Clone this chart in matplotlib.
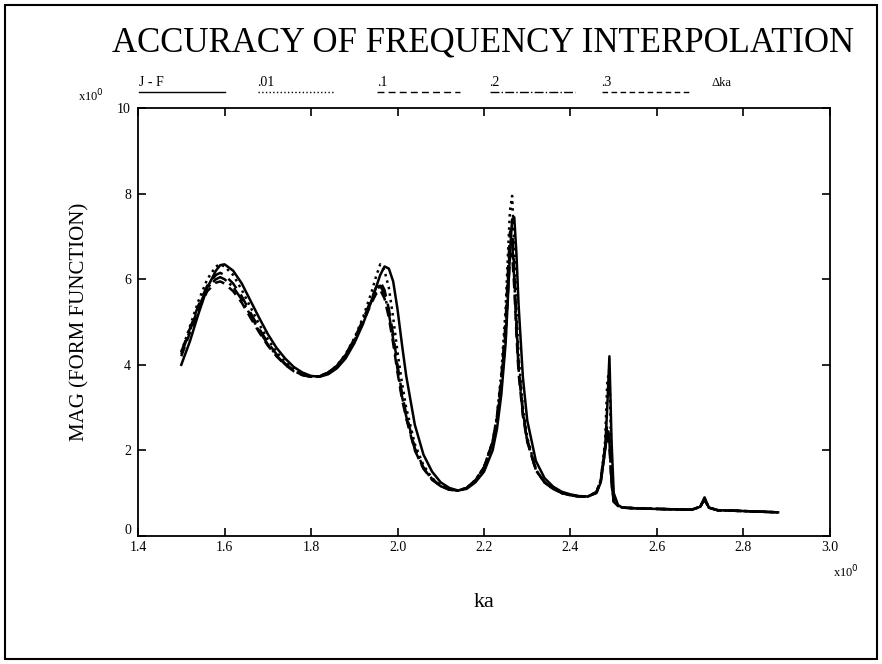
import matplotlib
matplotlib.use("Agg")
import matplotlib.pyplot as plt
import matplotlib.transforms as mtransforms
from matplotlib.lines import Line2D
from matplotlib.patches import Rectangle

plt.rcParams['font.family'] = ['Liberation Serif', 'DejaVu Serif']

# shared ka grid (denser around the sharp resonances)
ka = [1.50, 1.52, 1.54, 1.56, 1.58, 1.59, 1.60, 1.62, 1.64, 1.66,
      1.68, 1.70, 1.72, 1.74, 1.76, 1.78, 1.80, 1.82, 1.84, 1.86,
      1.88, 1.90, 1.92, 1.94, 1.95, 1.96, 1.97, 1.98, 1.99, 2.00,
      2.01, 2.02, 2.04, 2.06, 2.08, 2.10, 2.12, 2.14, 2.16, 2.18,
      2.20, 2.22, 2.23, 2.24, 2.25, 2.255, 2.26, 2.265, 2.27, 2.275,
      2.28, 2.29, 2.30, 2.32, 2.34, 2.36, 2.38, 2.40, 2.42, 2.44,
      2.46, 2.47, 2.48, 2.485, 2.49, 2.495, 2.50, 2.51, 2.52, 2.56,
      2.60, 2.64, 2.68, 2.70, 2.71, 2.72, 2.74, 2.80, 2.88]

# J - F (exact)
mag_jf = [4.00, 4.55, 5.20, 5.80, 6.20, 6.33, 6.35, 6.20, 5.90, 5.50,
          5.10, 4.72, 4.40, 4.15, 3.95, 3.82, 3.74, 3.72, 3.78, 3.92,
          4.15, 4.50, 4.95, 5.50, 5.80, 6.10, 6.30, 6.25, 5.95, 5.30,
          4.50, 3.75, 2.60, 1.90, 1.50, 1.25, 1.12, 1.06, 1.10, 1.25,
          1.50, 2.00, 2.50, 3.30, 4.50, 5.50, 6.60, 7.40, 7.45, 6.60,
          5.40, 3.70, 2.70, 1.75, 1.35, 1.15, 1.03, 0.97, 0.93, 0.92,
          1.00, 1.25, 2.00, 3.00, 4.20, 2.20, 1.00, 0.72, 0.66, 0.64,
          0.63, 0.62, 0.61, 0.68, 0.90, 0.66, 0.60, 0.58, 0.55]

# dka = .01
mag_01 = [4.30, 4.90, 5.50, 6.00, 6.30, 6.35, 6.30, 6.10, 5.75, 5.35,
          4.95, 4.60, 4.30, 4.07, 3.90, 3.78, 3.72, 3.73, 3.82, 3.98,
          4.25, 4.62, 5.10, 5.70, 6.05, 6.35, 6.20, 5.80, 5.10, 4.30,
          3.60, 3.00, 2.15, 1.65, 1.35, 1.18, 1.08, 1.06, 1.12, 1.30,
          1.60, 2.20, 2.80, 3.80, 5.30, 6.50, 7.60, 7.95, 6.80, 5.30,
          4.20, 3.00, 2.30, 1.55, 1.25, 1.10, 1.00, 0.95, 0.92, 0.92,
          1.02, 1.30, 2.20, 3.60, 3.90, 1.60, 0.85, 0.70, 0.66, 0.64,
          0.63, 0.62, 0.61, 0.68, 0.88, 0.66, 0.60, 0.58, 0.55]

# dka = .1
mag_1 = [4.30, 4.85, 5.40, 5.85, 6.10, 6.15, 6.10, 5.90, 5.60, 5.22,
         4.85, 4.52, 4.25, 4.03, 3.87, 3.77, 3.72, 3.73, 3.82, 3.98,
         4.24, 4.60, 5.05, 5.55, 5.80, 5.95, 5.75, 5.30, 4.70, 4.00,
         3.35, 2.85, 2.05, 1.60, 1.33, 1.17, 1.08, 1.06, 1.12, 1.30,
         1.60, 2.20, 2.80, 3.70, 5.00, 6.10, 7.10, 7.20, 6.20, 5.00,
         4.00, 2.90, 2.25, 1.55, 1.25, 1.10, 1.00, 0.95, 0.92, 0.92,
         1.02, 1.30, 2.10, 2.60, 2.30, 1.30, 0.80, 0.70, 0.66, 0.64,
         0.63, 0.62, 0.61, 0.68, 0.86, 0.66, 0.60, 0.58, 0.55]

# dka = .2
mag_2 = [4.25, 4.80, 5.35, 5.80, 6.00, 6.05, 6.00, 5.82, 5.52, 5.16,
         4.80, 4.48, 4.22, 4.01, 3.86, 3.76, 3.72, 3.73, 3.82, 3.98,
         4.23, 4.58, 5.02, 5.50, 5.72, 5.85, 5.65, 5.20, 4.60, 3.90,
         3.28, 2.80, 2.02, 1.58, 1.32, 1.16, 1.08, 1.06, 1.12, 1.30,
         1.60, 2.20, 2.75, 3.60, 4.80, 5.90, 6.80, 6.90, 6.00, 4.85,
         3.90, 2.85, 2.22, 1.54, 1.25, 1.10, 1.00, 0.95, 0.92, 0.92,
         1.02, 1.30, 2.05, 2.45, 2.20, 1.25, 0.80, 0.70, 0.66, 0.64,
         0.63, 0.62, 0.61, 0.68, 0.85, 0.66, 0.60, 0.58, 0.55]

# dka = .3
mag_3 = [4.20, 4.75, 5.30, 5.72, 5.92, 5.95, 5.90, 5.72, 5.45, 5.10,
         4.76, 4.45, 4.20, 4.00, 3.85, 3.76, 3.72, 3.73, 3.82, 3.97,
         4.22, 4.56, 4.98, 5.45, 5.65, 5.75, 5.55, 5.10, 4.50, 3.82,
         3.22, 2.75, 2.00, 1.57, 1.31, 1.16, 1.08, 1.06, 1.12, 1.30,
         1.60, 2.18, 2.70, 3.50, 4.60, 5.60, 6.50, 6.60, 5.80, 4.70,
         3.80, 2.80, 2.20, 1.53, 1.25, 1.10, 1.00, 0.95, 0.92, 0.92,
         1.02, 1.28, 2.00, 2.40, 2.10, 1.20, 0.80, 0.70, 0.66, 0.64,
         0.63, 0.62, 0.61, 0.68, 0.84, 0.66, 0.60, 0.58, 0.55]

series = [
    ("J - F", mag_jf, "-"),
    (".01", mag_01, ":"),
    (".1", mag_1, (0, (5, 3))),
    (".2", mag_2, "-."),
    (".3", mag_3, (0, (4, 2.5))),
]

x_ticks = [1.4, 1.6, 1.8, 2.0, 2.2, 2.4, 2.6, 2.8, 3.0]
y_ticks = [0, 2, 4, 6, 8, 10]

fig = plt.figure(figsize=(8.82, 6.64), dpi=100)
ax = fig.add_axes([0.1565, 0.193, 0.7845, 0.644])

for name, mag, ls in series:
    ax.plot(ka, mag, color="black", linestyle=ls, linewidth=1.8)

ax.set_xlim(1.4, 3.0)
ax.set_ylim(0, 10)
ax.set_xticks(x_ticks)
ax.set_xticklabels(["%.1f" % t for t in x_ticks])
ax.set_yticks(y_ticks)
ax.tick_params(direction="in", top=True, right=True, length=6, width=1.2,
               labelsize=10)
ax.tick_params(axis="y", pad=5)
ax.tick_params(axis="x", pad=4)
for sp in ax.spines.values():
    sp.set_linewidth(1.3)

# the "0" label sits a little above the corner, as in the original
zero_lab = ax.get_yticklabels()[0]
zero_lab.set_transform(zero_lab.get_transform() +
                       mtransforms.ScaledTranslation(0, 5 / 72, fig.dpi_scale_trans))

ax.set_xlabel("ka", fontsize=16, labelpad=28)
ax.set_ylabel("MAG (FORM FUNCTION)", fontsize=15, labelpad=20)

fig.text(0.548, 0.935, "ACCURACY OF FREQUENCY INTERPOLATION",
         ha="center", va="center", fontsize=25)

# axis multipliers
fig.text(0.088, 0.855, r"x10$^0$", fontsize=9, ha="left", va="center")
fig.text(0.945, 0.138, r"x10$^0$", fontsize=9, ha="left", va="center")

# hand-made legend row above the plot
leg_y = 0.862
entries = [(0.158, 0.255, "J - F", "-"),
           (0.292, 0.378, ".01", ":"),
           (0.428, 0.522, ".1", (0, (5, 3))),
           (0.555, 0.652, ".2", "-."),
           (0.682, 0.782, ".3", (0, (4, 2.5)))]
for x0, x1, lab, ls in entries:
    fig.text(x0, leg_y + 0.004, lab, fontsize=10, ha="left", va="bottom")
    fig.add_artist(Line2D([x0, x1], [leg_y, leg_y], color="black",
                          linestyle=ls, linewidth=1.0,
                          transform=fig.transFigure))
fig.text(0.807, leg_y + 0.004, "Δka", fontsize=9, ha="left", va="bottom")

# outer frame
fig.add_artist(Rectangle((0.006, 0.008), 0.988, 0.984, fill=False,
                         edgecolor="black", linewidth=1.5,
                         transform=fig.transFigure))

fig.savefig("out.png", dpi=100)
